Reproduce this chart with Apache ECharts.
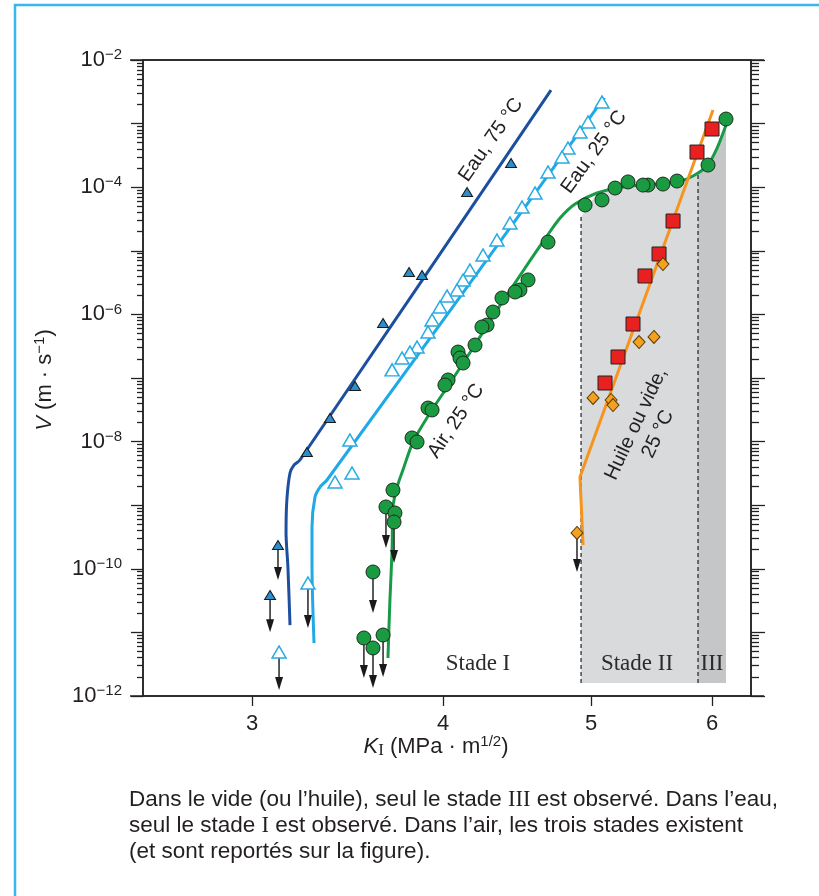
<!DOCTYPE html>
<html>
<head>
<meta charset="utf-8">
<script src="https://cdn.jsdelivr.net/npm/echarts@6/dist/echarts.min.js"></script>
<style>
  html, body { margin: 0; padding: 0; background: #fff; }
  #chart { width: 819px; height: 896px; }
</style>
</head>
<body>
<div id="chart"></div>
<script>
// K_I en MPa·m^1/2, V en m/s
const eau75Line = [[3.176,1.3e-11],[3.166,1.07e-10],[3.157,3.66e-10],[3.161,1.21e-9],[3.176,3.21e-9],[3.195,4.28e-9],[3.224,5.14e-9],[4.706,3.37e-3]];
const eau75Points = [[4.147,8.4e-5],[4.431,2.4e-4],[3.800,4.64e-6],[3.875,4.16e-6],[3.654,7.33e-7],[3.503,7.48e-8],[3.373,2.35e-8],[3.258,6.86e-9],[3.119,2.37e-10],[3.082,3.87e-11]];

const eau25Line = [[3.293,6.8e-12],[3.283,1.07e-10],[3.283,4.54e-10],[3.298,1.35e-9],[3.323,1.93e-9],[3.358,2.49e-9],[5.098,2.53e-3]];
const eau25Points = [[5.082,2.19e-3],[4.976,1.06e-3],[4.916,7.38e-4],[4.828,4.13e-4],[4.785,2.98e-4],[4.685,1.73e-4],[4.594,8.11e-5],[4.505,4.89e-5],[4.424,2.74e-5],[4.338,1.48e-5],[4.248,8.59e-6],[4.165,4.99e-6],[4.122,3.48e-6],[4.085,2.42e-6],[4.024,1.95e-6],[3.981,1.31e-6],[3.934,8.17e-7],[3.910,5.28e-7],[3.846,3.07e-7],[3.805,2.56e-7],[3.760,2.06e-7],[3.704,1.34e-7],[3.476,1.06e-8],[3.487,3.21e-9],[3.399,2.32e-9],[3.263,5.98e-11],[3.124,4.92e-12]];

const airLine = [[3.681,3.95e-12],[3.692,3.23e-11],[3.704,1.98e-10],[3.709,9.38e-10],[3.732,1.93e-9],[3.765,3.57e-9],[3.823,9.86e-9],[3.922,2.82e-8],[4.042,8.34e-8],[4.184,2.96e-7],[4.325,1.05e-6],[4.512,4.81e-6],[4.678,1.71e-5],[4.771,3.28e-5],[4.880,5.45e-5],[5.044,8.11e-5],[5.246,1.01e-4],[5.488,1.12e-4],[5.716,1.25e-4],[5.829,1.50e-4],[5.953,2.15e-4],[6.044,4.13e-4],[6.136,1.06e-3]];
const airPoints = [[6.126,1.18e-3],[5.962,2.23e-4],[5.690,1.25e-4],[5.571,1.12e-4],[5.447,1.08e-4],[5.406,1.08e-4],[5.285,1.21e-4],[5.183,9.70e-5],[5.082,6.30e-5],[4.954,5.25e-5],[4.685,1.37e-5],[4.546,3.48e-6],[4.491,2.42e-6],[4.458,2.25e-6],[4.371,1.81e-6],[4.312,1.09e-6],[4.274,6.81e-7],[4.241,6.34e-7],[4.197,3.30e-7],[4.091,2.56e-7],[4.103,2.06e-7],[4.122,1.72e-7],[4.030,9.31e-8],[4.011,7.76e-8],[3.910,3.37e-8],[3.934,3.14e-8],[3.817,1.14e-8],[3.846,9.86e-9],[3.709,1.73e-9],[3.670,9.38e-10],[3.720,7.54e-10],[3.715,5.44e-10],[3.599,8.91e-11],[3.550,8.17e-12],[3.599,5.69e-12],[3.654,9.10e-12]];

const huileLine = [[4.939,2.37e-10],[4.916,2.77e-9],[6.007,1.64e-3]];
const huileSquares = [[5.998,8.22e-4],[5.864,3.57e-4],[5.656,2.94e-5],[5.538,8.91e-6],[5.422,4.02e-6],[5.325,7.06e-7],[5.206,2.14e-7],[5.105,8.34e-8]];
const huileDiamonds = [[5.571,6.19e-6],[5.374,3.68e-7],[5.496,4.42e-7],[5.014,4.85e-8],[5.152,4.51e-8],[5.167,3.76e-8],[4.894,3.66e-10]];

// flèches : [K, V du point, V de la pointe]
const arrows = [[3.119,2.37e-10,6.67e-11],[3.082,3.87e-11,1.01e-11],[3.263,5.98e-11,1.17e-11],[3.124,4.92e-12,1.24e-12],[3.670,9.38e-10,2.12e-10],[3.715,5.44e-10,1.23e-10],[3.599,8.91e-11,2.02e-11],[3.550,8.17e-12,1.92e-12],[3.599,5.69e-12,1.34e-12],[3.654,9.10e-12,1.99e-12],[4.894,3.66e-10,8.91e-11]];

// limites des stades II et III
const stageBounds = [4.924, 5.873, 6.126];
const stageTopLeft = 3.4e-5;
const stageBottom = 1.6e-12;

const xTicks = [3, 4, 5, 6];
const xRange = [2.545, 6.361];
const yRange = [-12, -2];

const SANS = "'Liberation Sans',Arial,sans-serif";
const SERIF = "'Liberation Serif','DejaVu Serif',serif";
const INK = '#231f20';

const lg = Math.log10;
const toLog = arr => arr.map(d => [lg(d[0]), lg(d[1])]);

const airLog = toLog(airLine);
function airAt(k) {
  const x = lg(k);
  for (let i = 0; i < airLog.length - 1; i++) {
    const a = airLog[i], b = airLog[i + 1];
    if (x >= a[0] && x <= b[0]) return a[1] + (b[1] - a[1]) * (x - a[0]) / (b[0] - a[0]);
  }
  return airLog[airLog.length - 1][1];
}
const [b0, b1, b2] = stageBounds.map(lg);
const yb = lg(stageBottom);
const stage2 = [[b0, yb], [b0, lg(stageTopLeft)]]
  .concat(airLog.filter(p => p[0] > lg(5.0) && p[0] < b1))
  .concat([[b1, airAt(stageBounds[1])], [b1, yb]]);
const stage3 = [[b1, yb], [b1, airAt(stageBounds[1])]]
  .concat(airLog.filter(p => p[0] > b1 && p[0] < b2))
  .concat([[b2, airAt(stageBounds[2])], [b2, yb]]);
const dashes = [
  [[b0, yb], [b0, lg(stageTopLeft)]],
  [[b1, yb], [b1, airAt(stageBounds[1])]]
];

const majors = [];
const minors = [];
for (let e = yRange[0]; e <= yRange[1]; e++) {
  majors.push(e);
  if (e < yRange[1]) for (let m = 2; m <= 9; m++) minors.push(e + lg(m));
}

const chart = echarts.init(document.getElementById('chart'));

function yAxisDef(position, values, len, labels) {
  return {
    type: 'value', position: position, min: yRange[0], max: yRange[1],
    axisLine: { show: true, lineStyle: { color: '#222', width: 1.5 } },
    splitLine: { show: false },
    axisTick: { show: true, inside: false, length: len, customValues: values, lineStyle: { color: '#222', width: 1.3 } },
    axisLabel: labels ? {
      show: true, customValues: majors.filter(v => v % 2 === 0), margin: 21,
      formatter: v => '{n|10}{e|\u2212' + (-v) + '}',
      rich: {
        n: { fontSize: 22, fontFamily: SANS, color: INK },
        e: { fontSize: 15, fontFamily: SANS, color: INK, padding: [0, 0, 10, 0] }
      }
    } : { show: false, customValues: values }
  };
}

const option = {
  animation: false,
  backgroundColor: '#fff',
  grid: { left: 143, right: 68, top: 60, bottom: 200, outerBoundsMode: 'none' },
  xAxis: [{
    type: 'value', position: 'bottom', min: lg(xRange[0]), max: lg(xRange[1]),
    axisLine: { show: true, lineStyle: { color: '#222', width: 1.5 } },
    splitLine: { show: false },
    axisTick: { show: true, length: 10, customValues: xTicks.map(lg), lineStyle: { color: '#222', width: 1.3 } },
    axisLabel: {
      customValues: xTicks.map(lg), margin: 17,
      formatter: v => String(Math.round(Math.pow(10, v))),
      fontSize: 22, fontFamily: SANS, color: INK
    }
  }, {
    type: 'value', position: 'top', min: lg(xRange[0]), max: lg(xRange[1]),
    axisLine: { show: true, lineStyle: { color: '#222', width: 1.5 } },
    axisTick: { show: false }, axisLabel: { show: false }, splitLine: { show: false }
  }],
  yAxis: [
    yAxisDef('left', majors, 12, true),
    yAxisDef('left', minors, 6, false),
    yAxisDef('right', majors, 14, false),
    yAxisDef('right', minors, 8, false)
  ],
  series: [
    {
      type: 'custom', z: 1, silent: true, clip: true,
      data: [[0, 0]],
      renderItem: (params, api) => {
        const px = pts => pts.map(p => api.coord(p));
        const children = [
          { type: 'polygon', shape: { points: px(stage2) }, style: { fill: '#d9dadc' } },
          { type: 'polygon', shape: { points: px(stage3) }, style: { fill: '#c5c6c8' } }
        ];
        dashes.forEach(d => {
          const a = api.coord(d[0]), b = api.coord(d[1]);
          children.push({ type: 'line', shape: { x1: a[0], y1: a[1], x2: b[0], y2: b[1] },
            style: { stroke: '#222', lineWidth: 1.2, lineDash: [4, 3] } });
        });
        return { type: 'group', children: children };
      }
    },
    { type: 'line', z: 3, data: toLog(eau75Line), smooth: 0.25, showSymbol: false, symbol: 'none',
      lineStyle: { color: '#1d4f9f', width: 3 } },
    { type: 'line', z: 3, data: toLog(eau25Line), smooth: 0.25, showSymbol: false, symbol: 'none',
      lineStyle: { color: '#1fa9e6', width: 3 } },
    { type: 'line', z: 3, data: airLog, smooth: 0.3, showSymbol: false, symbol: 'none',
      lineStyle: { color: '#179b46', width: 3 } },
    { type: 'line', z: 3, data: toLog(huileLine), smooth: false, showSymbol: false, symbol: 'none',
      lineStyle: { color: '#f7941d', width: 3 } },
    {
      type: 'custom', z: 4, silent: true,
      data: arrows.map(d => [lg(d[0]), lg(d[1]), lg(d[2])]),
      encode: { x: 0, y: [1, 2] },
      renderItem: (params, api) => {
        const a = api.coord([api.value(0), api.value(1)]);
        const b = api.coord([api.value(0), api.value(2)]);
        return {
          type: 'group', children: [
            { type: 'line', shape: { x1: a[0], y1: a[1] + 5, x2: b[0], y2: b[1] - 10 },
              style: { stroke: '#333', lineWidth: 1.6 } },
            { type: 'polygon', shape: { points: [[b[0] - 4, b[1] - 13], [b[0] + 4, b[1] - 13], [b[0], b[1]]] },
              style: { fill: '#1a1a1a' } }
          ]
        };
      }
    },
    { type: 'scatter', z: 5, data: toLog(eau75Points), symbol: 'triangle', symbolSize: [11, 9],
      itemStyle: { color: '#2a8fd0', borderColor: '#1a1a1a', borderWidth: 1, opacity: 1 } },
    { type: 'scatter', z: 5, data: toLog(eau25Points), symbol: 'triangle', symbolSize: [14, 12],
      itemStyle: { color: '#ffffff', borderColor: '#29abe2', borderWidth: 1.5, opacity: 1 } },
    { type: 'scatter', z: 5, data: toLog(airPoints), symbol: 'circle', symbolSize: 14,
      itemStyle: { color: '#1a9a41', borderColor: '#1d2b1d', borderWidth: 1, opacity: 1 } },
    { type: 'scatter', z: 5, data: toLog(huileSquares), symbol: 'rect', symbolSize: 14,
      itemStyle: { color: '#e8201f', borderColor: '#222', borderWidth: 1, opacity: 1 } },
    { type: 'scatter', z: 5, data: toLog(huileDiamonds), symbol: 'diamond', symbolSize: [12, 13],
      itemStyle: { color: '#f4a020', borderColor: '#5a3b00', borderWidth: 1, opacity: 1 } }
  ],
  graphic: [
    { type: 'polyline', z: 100, shape: { points: [[15, 896], [15, 5], [819, 5]] }, style: { stroke: '#38b6ee', lineWidth: 2.5, fill: null } },
    { type: 'line', z: 100, shape: { x1: 130, y1: 60, x2: 764, y2: 60 }, style: { stroke: '#222', lineWidth: 1.5 } },
    { type: 'line', z: 100, shape: { x1: 130, y1: 696, x2: 764, y2: 696 }, style: { stroke: '#222', lineWidth: 1.5 } },
    { type: 'text', z: 100, x: 45, y: 380, rotation: Math.PI / 2,
      style: { text: '{i|V} (m · s{e|\u22121})', align: 'center', verticalAlign: 'middle', fontSize: 22, fontFamily: SANS, fill: INK,
        rich: { i: { fontStyle: 'italic', fontSize: 22, fontFamily: SANS, fill: INK },
                e: { fontSize: 15, fontFamily: SANS, fill: INK, padding: [0, 0, 10, 0] } } } },
    { type: 'text', z: 100, x: 436, y: 747,
      style: { text: '{i|K}{s|I} (MPa · m{e|1/2})', align: 'center', verticalAlign: 'middle', fontSize: 22, fontFamily: SANS, fill: INK,
        rich: { i: { fontStyle: 'italic', fontSize: 22, fontFamily: SANS, fill: INK },
                s: { fontSize: 17, fontFamily: SERIF, fill: INK, padding: [7, 0, 0, 0] },
                e: { fontSize: 15, fontFamily: SANS, fill: INK, padding: [0, 0, 10, 0] } } } },
    { type: 'text', z: 100, x: 491, y: 140, rotation: 55 * Math.PI / 180,
      style: { text: 'Eau, 75 °C', align: 'center', verticalAlign: 'middle', fontSize: 20, fontFamily: SANS, fill: INK } },
    { type: 'text', z: 100, x: 594, y: 152, rotation: 54 * Math.PI / 180,
      style: { text: 'Eau, 25 °C', align: 'center', verticalAlign: 'middle', fontSize: 20, fontFamily: SANS, fill: INK } },
    { type: 'text', z: 100, x: 456, y: 421, rotation: 56 * Math.PI / 180,
      style: { text: 'Air, 25 °C', align: 'center', verticalAlign: 'middle', fontSize: 20, fontFamily: SANS, fill: INK } },
    { type: 'text', z: 100, x: 647, y: 429, rotation: 65 * Math.PI / 180,
      style: { text: 'Huile ou vide,\n25 °C', align: 'center', verticalAlign: 'middle', lineHeight: 24, fontSize: 20, fontFamily: SANS, fill: INK } },
    { type: 'text', z: 100, x: 478, y: 664, style: { text: 'Stade I', align: 'center', verticalAlign: 'middle', fontSize: 23, fontFamily: SERIF, fill: '#2b2b2b' } },
    { type: 'text', z: 100, x: 637, y: 664, style: { text: 'Stade II', align: 'center', verticalAlign: 'middle', fontSize: 23, fontFamily: SERIF, fill: '#2b2b2b' } },
    { type: 'text', z: 100, x: 712, y: 664, style: { text: 'III', align: 'center', verticalAlign: 'middle', fontSize: 23, fontFamily: SERIF, fill: '#2b2b2b' } },
    { type: 'text', z: 100, x: 129, y: 787,
      style: { text: 'Dans le vide (ou l\u2019huile), seul le stade {r|III} est observé. Dans l\u2019eau,\nseul le stade {r|I} est observé. Dans l\u2019air, les trois stades existent\n(et sont reportés sur la figure).',
        align: 'left', verticalAlign: 'top', lineHeight: 26, fontSize: 22.5, fontFamily: SANS, fill: INK,
        rich: { r: { fontFamily: SERIF, fontSize: 22.5, fill: INK, lineHeight: 26 } } } }
  ]
};
chart.setOption(option);
</script>
</body>
</html>
